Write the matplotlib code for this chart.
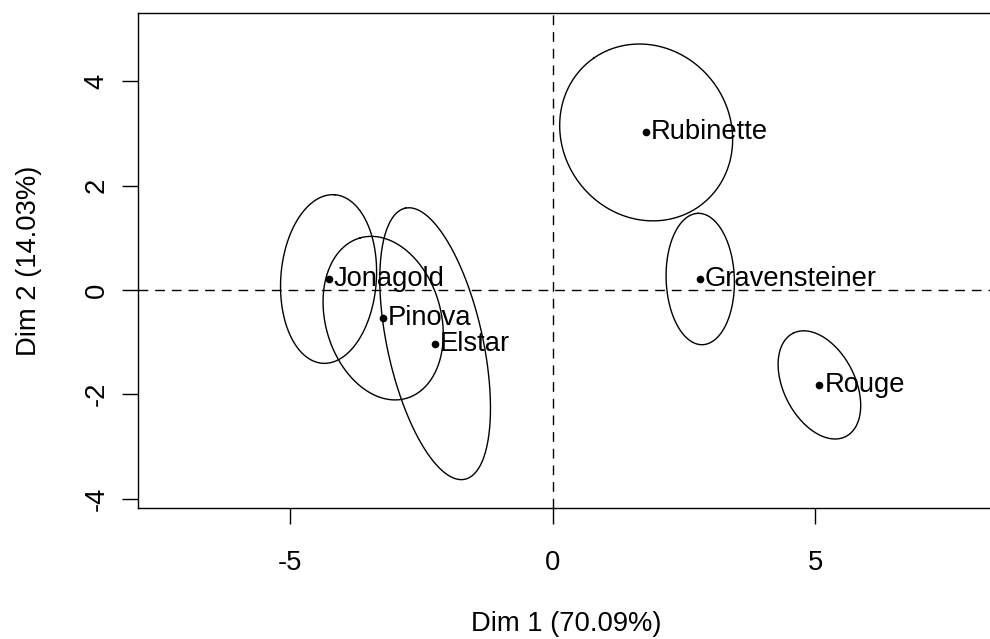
import numpy as np
import matplotlib
matplotlib.use("Agg")
import matplotlib.pyplot as plt

# individuals: coordinates on Dim 1 / Dim 2
names = ["Rubinette", "Gravensteiner", "Rouge", "Jonagold", "Pinova", "Elstar"]
dim1 = [1.78, 2.81, 5.08, -4.27, -3.23, -2.24]
dim2 = [3.02, 0.21, -1.82, 0.21, -0.54, -1.03]

# confidence ellipses: semi-axes and angle (degrees)
ell_a = [1.74, 1.26, 1.11, 1.62, 1.60, 2.66]
ell_b = [1.60, 0.65, 0.68, 0.91, 1.10, 0.91]
ell_ang = [125.0, 92.0, 116.8, 85.9, 105.9, 102.3]

xticks = [-5, 0, 5]
yticks = [-4, -2, 0, 2, 4]

plt.rcParams['font.family'] = ['Liberation Sans', 'DejaVu Sans']
plt.rcParams['axes.unicode_minus'] = False
FS = 19.7

fig = plt.figure(figsize=(9.9, 6.39), dpi=100)
W, H = 990, 639
x0, x1 = 138, 993.7
y0, y1 = 13, 508
ax = fig.add_axes([x0 / W, 1 - y1 / H, (x1 - x0) / W, (y1 - y0) / H])

ax.axvline(0, color="black", lw=1, ls=(0, (7, 5)))
ax.axhline(0, color="black", lw=1, ls=(0, (7, 5)))

t = np.linspace(0, 2 * np.pi, 300)
for cx, cy, a, b, ang in zip(dim1, dim2, ell_a, ell_b, ell_ang):
    th = np.deg2rad(ang)
    ex = cx + a * np.cos(t) * np.cos(th) - b * np.sin(t) * np.sin(th)
    ey = cy + a * np.cos(t) * np.sin(th) + b * np.sin(t) * np.cos(th)
    ax.plot(ex, ey, color="black", lw=1)

ax.plot(dim1, dim2, "o", color="black", ms=4.5)
for n, x, y in zip(names, dim1, dim2):
    ax.annotate(n, (x, y), xytext=(3.5, 0), textcoords="offset points",
                ha="left", va="center", fontsize=FS)

ax.set_xlim(-7.90, 8.40)
ax.set_ylim(-4.18, 5.31)
ax.set_xticks(xticks)
ax.set_yticks(yticks)
ax.tick_params(direction="out", length=11.5, width=1, labelsize=FS, pad=19)
ax.tick_params(axis="y", labelrotation=90, pad=9)
for lab in ax.get_yticklabels():
    lab.set_va("center")
for s in ax.spines.values():
    s.set_linewidth(1)

ax.set_xlabel("Dim 1 (70.09%)", fontsize=FS, labelpad=25)
ax.set_ylabel("Dim 2 (14.03%)", fontsize=FS, labelpad=30)

fig.savefig("out.png", dpi=100)
